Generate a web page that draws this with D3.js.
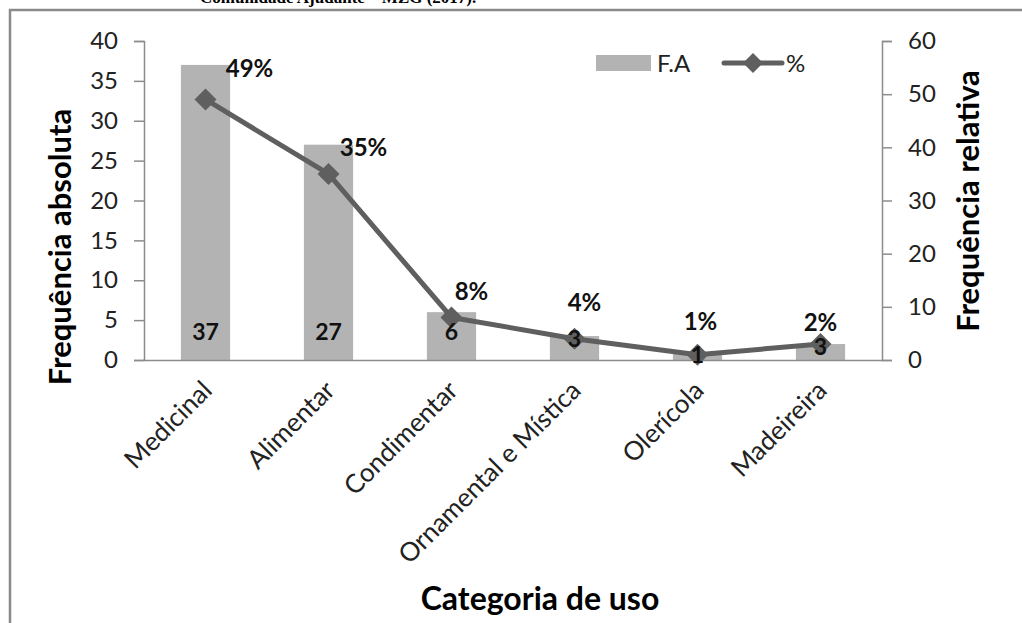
<!DOCTYPE html>
<html>
<head>
<meta charset="utf-8">
<script src="https://cdn.jsdelivr.net/npm/d3@7"></script>
<style>
  html, body { margin: 0; padding: 0; background: #fff; }
  svg { display: block; }
  text { font-family: Lato, "Open Sans", sans-serif; }
</style>
</head>
<body>
<svg id="chart" width="1022" height="623"></svg>
<script>
// ---- data ----
const categories = ["Medicinal", "Alimentar", "Condimentar", "Ornamental e Mística", "Olerícola", "Madeireira"];
const freqAbs = [37, 27, 6, 3, 1, 2];
const freqAbsLabels = ["37", "27", "6", "3", "1", "3"];
const freqRel = [49, 35, 8, 4, 1, 3];
const freqRelLabels = ["49%", "35%", "8%", "4%", "1%", "2%"];
const leftTicks = [0, 5, 10, 15, 20, 25, 30, 35, 40];
const rightTicks = [0, 10, 20, 30, 40, 50, 60];
const titleText = "Comunidade Ajudante – MZG (2017).";

// ---- layout ----
const svg = d3.select("#chart");
const plot = { left: 144, right: 882, top: 41, bottom: 360 };
const barColor = "#b3b3b3";
const lineColor = "#5f5f5f";
const axisColor = "#8c8c8c";

// clipped title above frame
svg.append("text")
  .attr("x", 200).attr("y", 3)
  .style("font-family", "'Liberation Serif', 'DejaVu Serif', serif")
  .attr("font-weight", "bold").attr("font-size", 17)
  .attr("fill", "#000")
  .text(titleText);

// frame
svg.append("path")
  .attr("d", "M10,640 L10,10 L1030,10")
  .attr("fill", "none").attr("stroke", "#8a8a8a").attr("stroke-width", 2.5);

const x = d3.scaleBand().domain(categories).range([plot.left, plot.right])
  .paddingInner(0.6).paddingOuter(0.3);
const yL = d3.scaleLinear().domain([0, 40]).range([plot.bottom, plot.top]);
const yR = d3.scaleLinear().domain([0, 60]).range([plot.bottom, plot.top]);
const cx = c => x(c) + x.bandwidth() / 2;

// bars
svg.append("g").selectAll("rect").data(categories).join("rect")
  .attr("x", c => x(c))
  .attr("width", x.bandwidth())
  .attr("y", (c, i) => yL(freqAbs[i]))
  .attr("height", (c, i) => yL(0) - yL(freqAbs[i]))
  .attr("fill", barColor);

// left axis
const gL = svg.append("g").attr("transform", `translate(${plot.left},0)`)
  .call(d3.axisLeft(yL).tickValues(leftTicks).tickSize(10).tickPadding(16).tickFormat(d3.format("d")));
gL.select(".domain").attr("stroke", axisColor).attr("stroke-width", 1.5);
gL.selectAll(".tick line").attr("stroke", axisColor).attr("stroke-width", 1.5);
gL.selectAll(".tick text").attr("font-size", 24).attr("fill", "#222").style("font-family", "Lato, sans-serif");

// right axis
const gR = svg.append("g").attr("transform", `translate(${plot.right},0)`)
  .call(d3.axisRight(yR).tickValues(rightTicks).tickSize(10).tickPadding(16).tickFormat(d3.format("d")));
gR.select(".domain").attr("stroke", axisColor).attr("stroke-width", 1.5);
gR.selectAll(".tick line").attr("stroke", axisColor).attr("stroke-width", 1.5);
gR.selectAll(".tick text").attr("font-size", 24).attr("fill", "#222").style("font-family", "Lato, sans-serif");

// bottom axis
const gB = svg.append("g").attr("transform", `translate(0,${plot.bottom})`)
  .call(d3.axisBottom(x).tickSize(0).tickPadding(0));
gB.select(".domain").attr("stroke", axisColor).attr("stroke-width", 1.5);
gB.selectAll(".tick text")
  .attr("font-size", 26).attr("fill", "#222").style("font-family", "Lato, sans-serif")
  .attr("text-anchor", "end")
  .attr("dy", 0).attr("y", 0)
  .attr("transform", "translate(8,32) rotate(-45)");

// line
const line = d3.line().x((d, i) => cx(categories[i])).y(d => yR(d));
svg.append("path").datum(freqRel)
  .attr("d", line).attr("fill", "none")
  .attr("stroke", lineColor).attr("stroke-width", 5).attr("stroke-linejoin", "round");

// diamond markers
svg.append("g").selectAll("path").data(freqRel).join("path")
  .attr("transform", (d, i) => `translate(${cx(categories[i])},${yR(d)})`)
  .attr("d", "M0,-11 L11,0 L0,11 L-11,0 Z")
  .attr("fill", lineColor);

// bar labels
svg.append("g").selectAll("text").data(freqAbsLabels).join("text")
  .attr("x", (d, i) => cx(categories[i]))
  .attr("y", (d, i) => Math.max(332, yL(freqAbs[i]) + 3))
  .attr("dy", "0.36em")
  .attr("text-anchor", "middle")
  .attr("font-size", 23).attr("font-weight", "bold").attr("fill", "#111")
  .text(d => d);

// percent labels (placement offsets relative to each point)
const pctOffsets = [[44, -31], [35, -27], [20, -26], [10, -36], [3, -33], [0, -22]];
svg.append("g").selectAll("text").data(freqRelLabels).join("text")
  .attr("x", (d, i) => cx(categories[i]) + pctOffsets[i][0])
  .attr("y", (d, i) => yR(freqRel[i]) + pctOffsets[i][1])
  .attr("dy", "0.36em")
  .attr("text-anchor", "middle")
  .attr("font-size", 24).attr("font-weight", "bold").attr("fill", "#111")
  .text(d => d);

// legend
const leg = svg.append("g");
leg.append("rect").attr("x", 596).attr("y", 55).attr("width", 55).attr("height", 16).attr("fill", barColor);
leg.append("text").attr("x", 657).attr("y", 63).attr("dy", "0.36em")
  .attr("font-size", 24).attr("fill", "#222").text("F.A");
leg.append("line").attr("x1", 724).attr("x2", 782).attr("y1", 63).attr("y2", 63)
  .attr("stroke", lineColor).attr("stroke-width", 5).attr("stroke-linecap", "round");
leg.append("path").attr("transform", "translate(753,63)")
  .attr("d", "M0,-10 L10,0 L0,10 L-10,0 Z").attr("fill", lineColor);
leg.append("text").attr("x", 786).attr("y", 63).attr("dy", "0.36em")
  .attr("font-size", 24).attr("fill", "#222").text("%");

// axis titles
svg.append("text")
  .attr("transform", "translate(60,247) rotate(-90)")
  .attr("text-anchor", "middle").attr("dy", "0.36em")
  .attr("font-size", 31).attr("font-weight", "bold").attr("fill", "#000")
  .text("Frequência absoluta");
svg.append("text")
  .attr("transform", "translate(968,201) rotate(-90)")
  .attr("text-anchor", "middle").attr("dy", "0.36em")
  .attr("font-size", 31).attr("font-weight", "bold").attr("fill", "#000")
  .text("Frequência relativa");
svg.append("text")
  .attr("x", 540).attr("y", 598).attr("dy", "0.36em")
  .attr("text-anchor", "middle")
  .attr("font-size", 32).attr("font-weight", "bold").attr("fill", "#000")
  .text("Categoria de uso");
</script>
</body>
</html>
